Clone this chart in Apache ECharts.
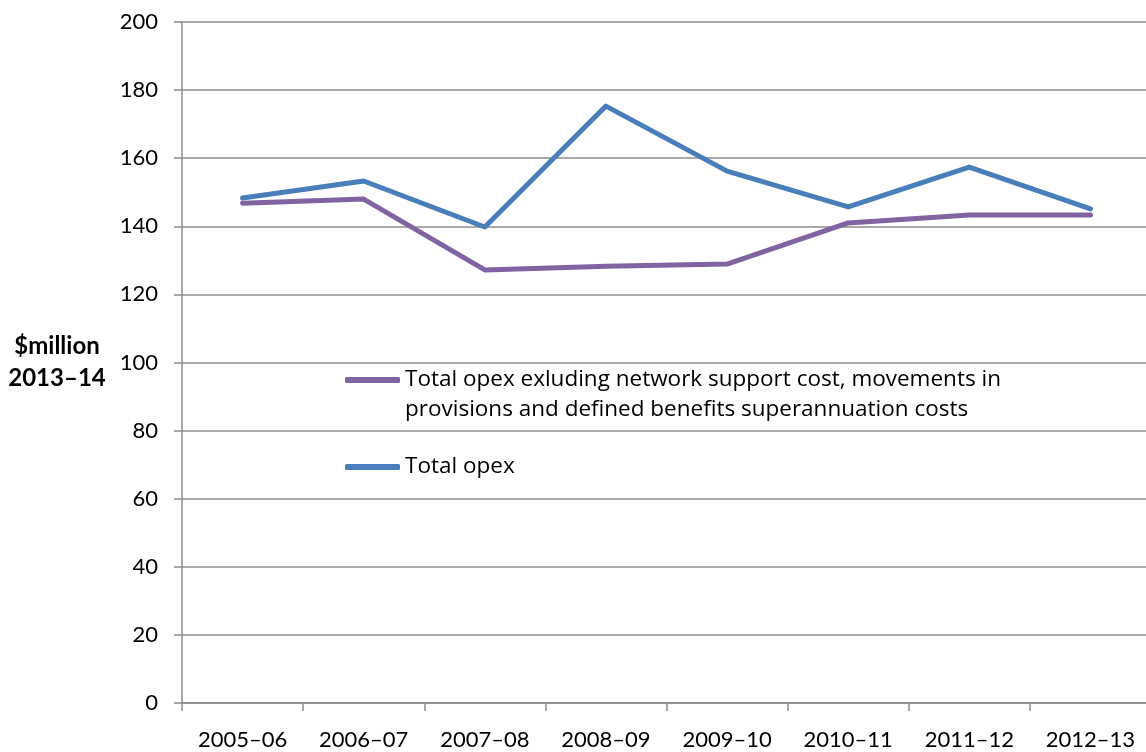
<!DOCTYPE html>
<html>
<head>
<meta charset="utf-8">
<title>Total opex</title>
<script src="https://cdn.jsdelivr.net/npm/echarts@6/dist/echarts.min.js"></script>
<style>
  html, body { margin: 0; padding: 0; background: #fff; }
  #chart { width: 1146px; height: 752px; }
</style>
</head>
<body>
<div id="chart"></div>
<script>
// Financial years on the category axis
const years = ['2005–06', '2006–07', '2007–08', '2008–09', '2009–10', '2010–11', '2011–12', '2012–13'];

// $million (2013–14 dollars)
const opexExcluding = [146.8, 148.0, 127.2, 128.3, 128.9, 141.0, 143.3, 143.3];
const totalOpex = [148.3, 153.3, 139.8, 175.3, 156.2, 145.7, 157.4, 145.1];

const nameExcluding = 'Total opex exluding network support cost, movements in\nprovisions and defined benefits superannuation costs';
const nameTotal = 'Total opex';

const yTicks = { min: 0, max: 200, interval: 20 };

const FONT = 'Lato, "Open Sans", sans-serif';
const LEGEND_FONT = '"Open Sans", Lato, sans-serif';
const GREY = '#8c8c8c';

const chart = echarts.init(document.getElementById('chart'), null, { renderer: 'canvas' });

chart.setOption({
  animation: false,
  backgroundColor: '#ffffff',
  // the plot runs slightly past the right edge of the canvas
  grid: { left: 182, top: 22, width: 969, height: 681, containLabel: false, outerBoundsMode: 'none' },
  legend: {
    orient: 'vertical',
    left: 340,
    top: 330,
    itemWidth: 55,
    itemHeight: 6,
    itemGap: 27,
    icon: 'roundRect',
    selectedMode: false,
    // a leading blank line keeps the icon level with the first text line
    formatter: name => (name === nameExcluding ? ' \n' + name : name),
    textStyle: { fontFamily: LEGEND_FONT, fontSize: 22.5, color: '#000', lineHeight: 30 },
    data: [nameExcluding, nameTotal]
  },
  xAxis: {
    type: 'category',
    data: years,
    boundaryGap: true,
    axisLine: { lineStyle: { color: GREY, width: 1.5 } },
    axisTick: { show: true, length: 8, lineStyle: { color: GREY, width: 1.5 } },
    axisLabel: { fontFamily: FONT, fontSize: 22, color: '#000', margin: 26 }
  },
  yAxis: {
    type: 'value',
    min: yTicks.min,
    max: yTicks.max,
    interval: yTicks.interval,
    name: '$million\n2013–14',
    nameLocation: 'middle',
    nameRotate: 0,
    nameGap: 125,
    nameTextStyle: { fontFamily: FONT, fontSize: 24, fontWeight: 'bold', color: '#000', align: 'center', lineHeight: 32, padding: [4, 0, 0, 0] },
    axisLine: { show: true, lineStyle: { color: GREY, width: 1.5 } },
    axisTick: { show: true, length: 8, lineStyle: { color: GREY, width: 1.5 } },
    axisLabel: { fontFamily: FONT, fontSize: 22, color: '#000', margin: 24 },
    splitLine: { show: true, lineStyle: { color: GREY, width: 1.5 } }
  },
  series: [
    {
      name: nameExcluding,
      type: 'line',
      data: opexExcluding,
      symbol: 'none',
      color: '#8064a2',
      lineStyle: { width: 5, color: '#8064a2', cap: 'round', join: 'round' }
    },
    {
      name: nameTotal,
      type: 'line',
      data: totalOpex,
      symbol: 'none',
      color: '#4a7ebb',
      lineStyle: { width: 5, color: '#4a7ebb', cap: 'round', join: 'round' }
    }
  ]
});
</script>
</body>
</html>
